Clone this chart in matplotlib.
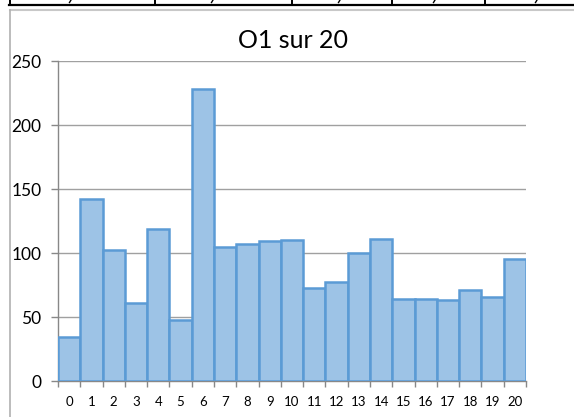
import matplotlib
matplotlib.use("Agg")
import matplotlib.pyplot as plt
from matplotlib.lines import Line2D

categories = [str(i) for i in range(21)]
values = [34, 142, 102, 61, 119, 48, 228, 105, 107, 109, 110, 73, 77, 100, 111, 64, 64, 63, 71, 66, 95]
title = "O1 sur 20"
yticks = [0, 50, 100, 150, 200, 250]

plt.rcParams['font.family'] = ['Lato', 'DejaVu Sans']

W, H = 574, 417
fig = plt.figure(figsize=(W / 100, H / 100), dpi=100)

def fx(px):
    return px / W

def fy(py):
    return 1 - py / H

# spreadsheet table remnants at top
fig.add_artist(Line2D([fx(9), 1], [fy(5), fy(5)], color='black', lw=1.6, transform=fig.transFigure))
for xv in [10, 155, 292, 392, 485]:
    fig.add_artist(Line2D([fx(xv), fx(xv)], [1, fy(5)], color='black', lw=1.4, transform=fig.transFigure))
for xv in [71, 213, 340, 435, 537]:
    fig.add_artist(Line2D([fx(xv), fx(xv - 1.5)], [fy(0), fy(2.5)], color='black', lw=1.0, transform=fig.transFigure))

# chart border
fig.add_artist(Line2D([fx(9.5), 1], [fy(10), fy(10)], color='#c8c8c8', lw=1.5, transform=fig.transFigure))
fig.add_artist(Line2D([fx(9.5), fx(9.5)], [fy(10), 0], color='#b0b0b0', lw=1.2, transform=fig.transFigure))

ax = fig.add_axes([fx(58), fy(381), fx(526) - fx(58), fy(61) - fy(381)])
x = list(range(len(values)))
ax.bar(x, values, width=1.0, color='#9dc3e6', edgecolor='#5b9bd5', linewidth=1.8, zorder=3)
ax.set_xlim(-0.5, len(values) - 0.5)
ax.set_ylim(0, 250)
ax.set_yticks(yticks)
ax.set_yticklabels([str(v) for v in yticks], fontsize=12.5)
ax.yaxis.grid(True, color='#a0a0a0', lw=1.0, zorder=0)
ax.set_axisbelow(True)

ax.set_xticks(x)
ax.set_xticklabels(categories, fontsize=9.5)
ax.set_xticks([i - 0.5 for i in range(len(values) + 1)], minor=True)
ax.tick_params(axis='x', which='major', length=0, pad=11)
ax.tick_params(axis='x', which='minor', length=4, color='#888888', width=1)
ax.tick_params(axis='y', length=5, color='#888888', width=1, pad=7)

for s in ['top', 'right']:
    ax.spines[s].set_visible(False)
for s in ['left', 'bottom']:
    ax.spines[s].set_color('#888888')
    ax.spines[s].set_linewidth(1.0)

fig.text(fx(293), fy(40), title, fontsize=18, ha='center', va='center')

fig.savefig('out.png', dpi=100)
